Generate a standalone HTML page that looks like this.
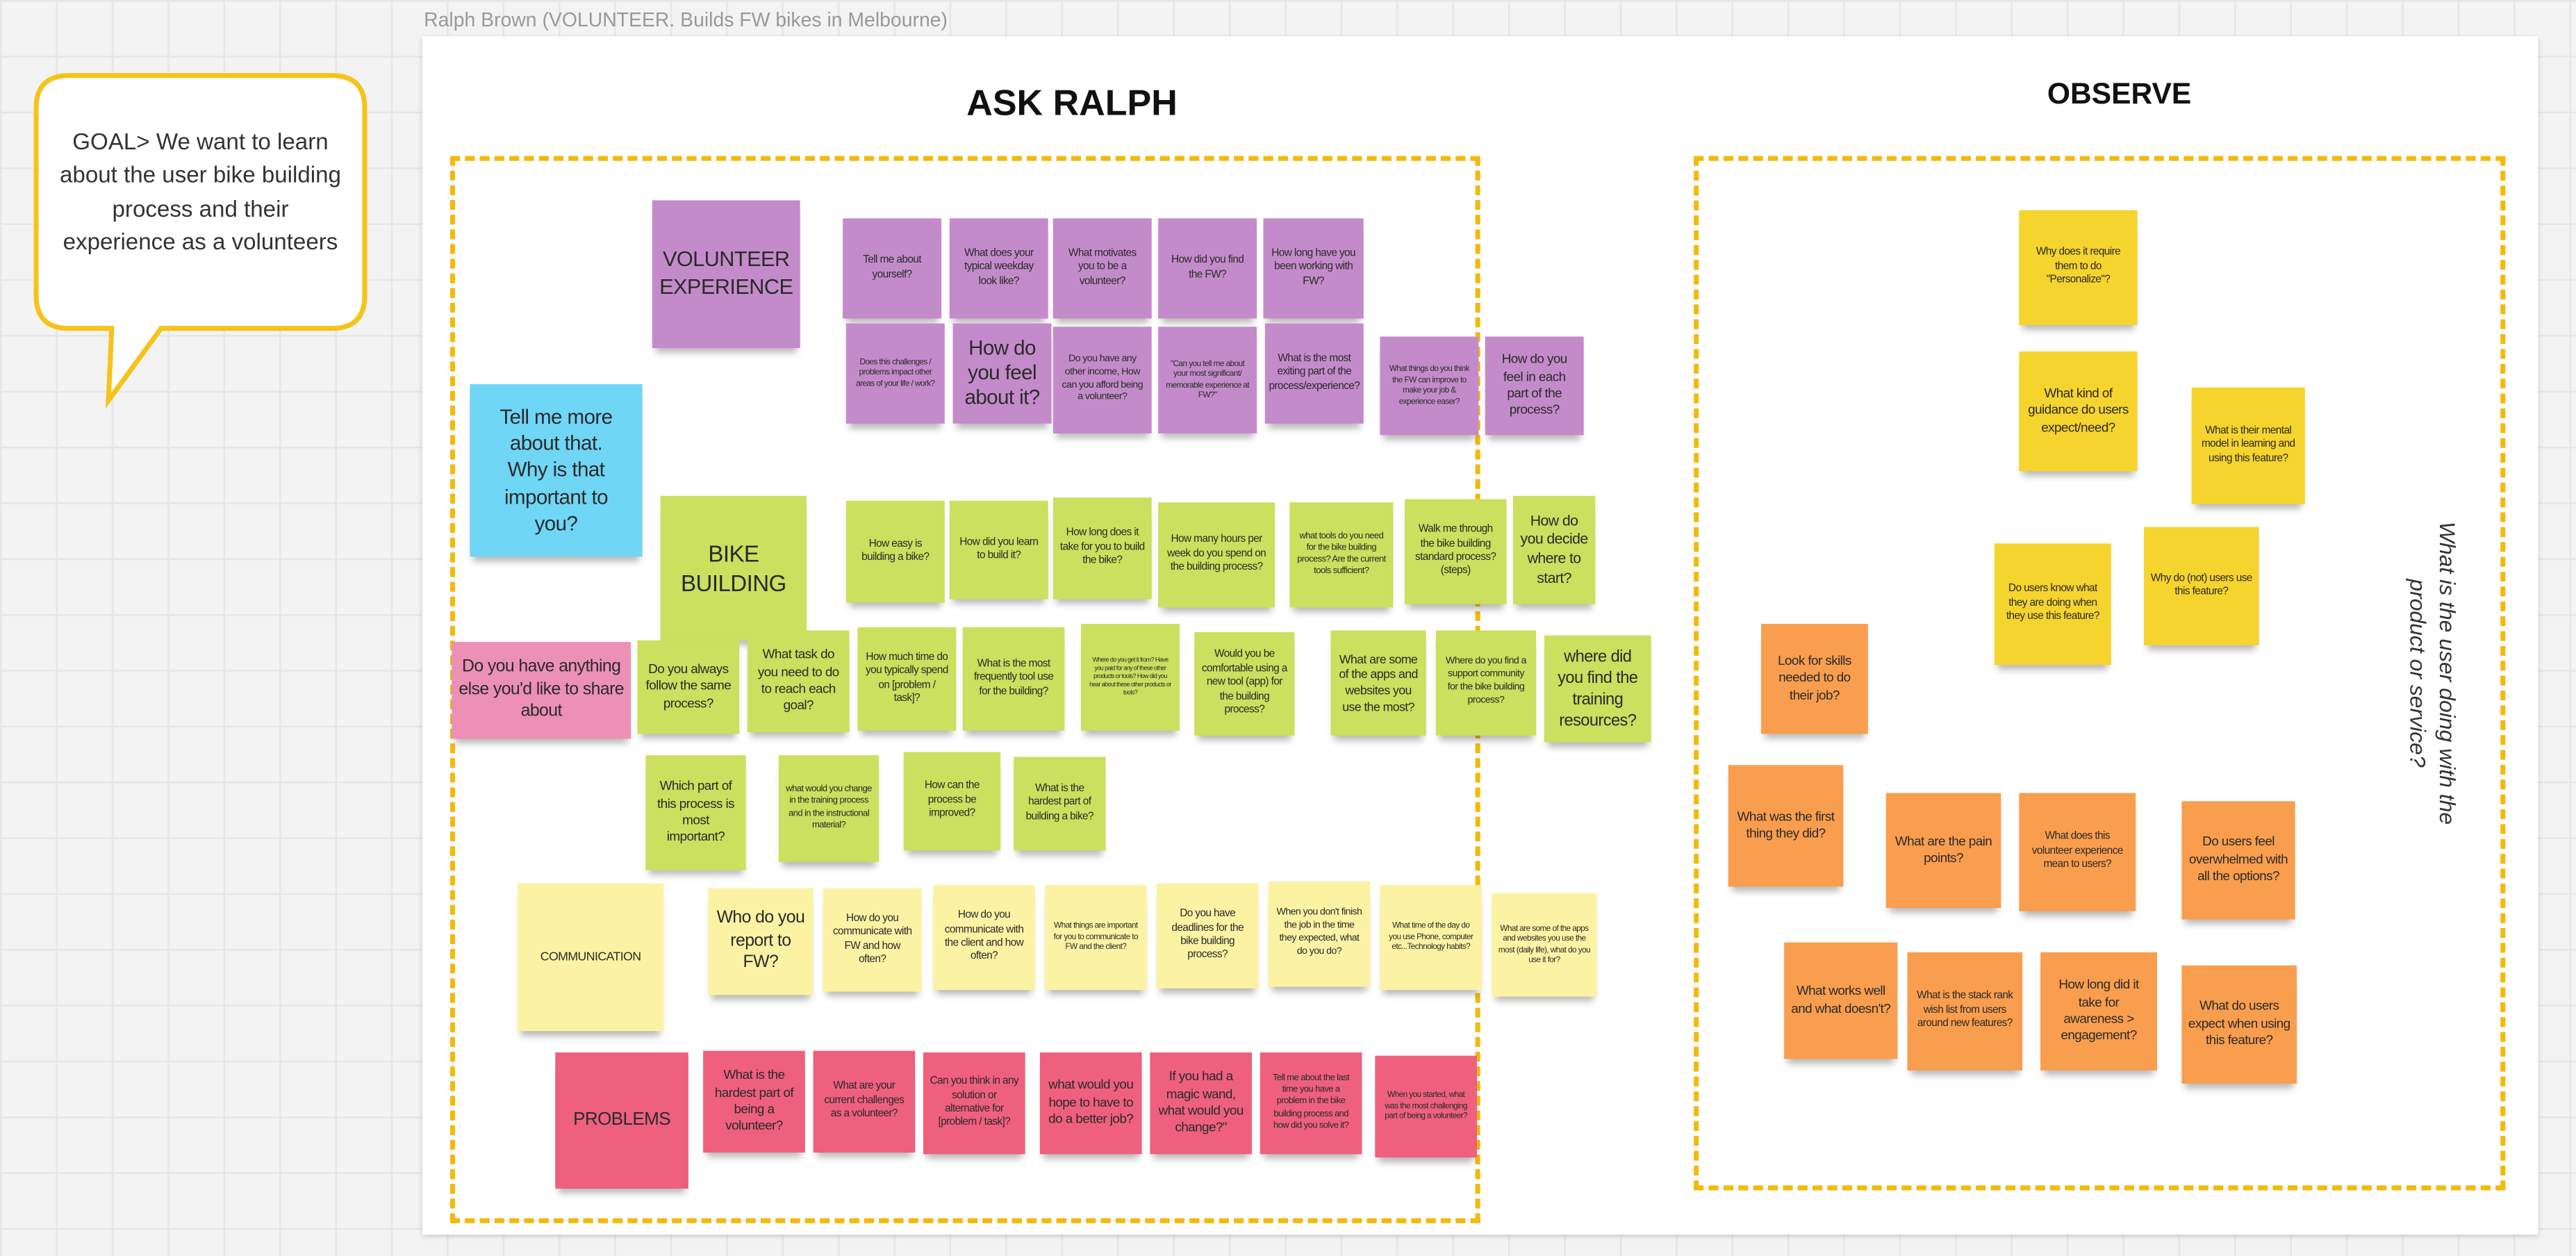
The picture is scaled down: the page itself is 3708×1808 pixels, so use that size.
<!DOCTYPE html>
<html><head><meta charset="utf-8"><style>
html,body{margin:0;padding:0;width:3708px;height:1808px;overflow:hidden;background:#efefef}
#s{position:absolute;left:0;top:0;width:1568px;height:765px;transform-origin:0 0;transform:scale(2.3648,2.3634);
background-color:#f3f3f3;background-image:linear-gradient(#e6e6e6 1px,transparent 1px),linear-gradient(90deg,#e6e6e6 1px,transparent 1px);background-size:34px 34px;font-family:"Liberation Sans Narrow","Liberation Sans",sans-serif;}
.n{position:absolute;display:flex;align-items:center;justify-content:center;text-align:center;color:#2a2a2a;box-sizing:border-box;padding:2px 4px;line-height:1.3;box-shadow:0 5px 4px -2px rgba(0,0,0,.28);font-size:6.5px;letter-spacing:-0.25px}
.p{background:#c48bca}.g{background:#cae05e}.y{background:#fbf3a3}.r{background:#ee607d}.o{background:#f99e4e}.k{background:#f6d42e}
.d{position:absolute;border:3px dashed #f4b90a;box-sizing:border-box}
</style></head><body><div id="s">
<div style="position:absolute;left:258px;top:5px;font-size:12px;color:#999;font-family:'Liberation Sans',sans-serif">Ralph Brown (VOLUNTEER. Builds FW bikes in Melbourne)</div>
<div style="position:absolute;left:257px;top:22px;width:1288px;height:730px;background:#fff;box-shadow:0 1px 3px rgba(0,0,0,.2)"></div>
<svg style="position:absolute;left:0;top:0" width="260" height="260"><path d="M42 46 H202 Q222 46 222 66 V180 Q222 200 202 200 H98 L66 244 L68 200 H42 Q22 200 22 180 V66 Q22 46 42 46Z" fill="#fff" stroke="#f6c31a" stroke-width="3"/></svg>
<div style="position:absolute;left:34px;top:76px;width:176px;text-align:center;font-size:14px;line-height:1.45;color:#333;font-family:'Liberation Sans',sans-serif">GOAL&gt; We want to learn about the user bike building process and their experience as a volunteers</div>
<div style="position:absolute;left:540px;top:50px;width:225px;text-align:center;font-weight:bold;font-size:22px;color:#111;font-family:'Liberation Sans',sans-serif">ASK RALPH</div>
<div style="position:absolute;left:1200px;top:47px;width:180px;text-align:center;font-weight:bold;font-size:18px;color:#111;font-family:'Liberation Sans',sans-serif">OBSERVE</div>
<div class="d" style="left:274px;top:95px;width:627px;height:650px"></div>
<div class="d" style="left:1031px;top:95px;width:494px;height:630px"></div>
<div style="position:absolute;left:1380px;top:410px;width:200px;transform:translate(-50%,-50%) rotate(90deg);transform-origin:center;text-align:center;font-style:italic;font-size:13.5px;line-height:1.35;color:#333;font-family:'Liberation Sans',sans-serif;margin-left:100px">What is the user doing with the product or service?</div>

<div class="n p" style="left:397px;top:122px;width:90px;height:90px;font-size:13px">VOLUNTEER EXPERIENCE</div>
<div class="n p" style="left:513px;top:133px;width:60px;height:61px">Tell me about yourself?</div>
<div class="n p" style="left:578px;top:133px;width:60px;height:61px">What does your typical weekday look like?</div>
<div class="n p" style="left:641px;top:133px;width:60px;height:61px">What motivates you to be a volunteer?</div>
<div class="n p" style="left:705px;top:133px;width:60px;height:61px">How did you find the FW?</div>
<div class="n p" style="left:769px;top:133px;width:61px;height:61px">How long have you been working with FW?</div>
<div class="n p" style="left:515px;top:197px;width:60px;height:61px;font-size:5px">Does this challenges / problems impact other areas of your life / work?</div>
<div class="n p" style="left:580px;top:197px;width:60px;height:61px;font-size:12.5px;line-height:1.2">How do you feel about it?</div>
<div class="n p" style="left:641px;top:199px;width:60px;height:65px;font-size:6px">Do you have any other income, How can you afford being a volunteer?</div>
<div class="n p" style="left:705px;top:199px;width:60px;height:65px;font-size:5px">"Can you tell me about your most significant/ memorable experience at FW?"</div>
<div class="n p" style="left:770px;top:197px;width:60px;height:61px">What is the most exiting part of the process/experience?</div>
<div class="n p" style="left:840px;top:205px;width:60px;height:60px;font-size:5px">What things do you think the FW can improve to make your job &amp; experience easer?</div>
<div class="n p" style="left:904px;top:205px;width:60px;height:60px;font-size:8px">How do you feel in each part of the process?</div>

<div class="n" style="left:286px;top:234px;width:105px;height:105px;background:#70d6f6;font-size:12.5px;line-height:1.3;padding:4px 12px">Tell me more about that. Why is that important to you?</div>
<div class="n" style="left:275px;top:391px;width:109px;height:59px;background:#ec90b5;font-size:10.5px">Do you have anything else you'd like to share about</div>

<div class="n g" style="left:402px;top:302px;width:89px;height:88px;font-size:14px">BIKE BUILDING</div>
<div class="n g" style="left:515px;top:305px;width:60px;height:62px">How easy is building a bike?</div>
<div class="n g" style="left:578px;top:305px;width:60px;height:60px">How did you learn to build it?</div>
<div class="n g" style="left:641px;top:303px;width:60px;height:62px">How long does it take for you to build the bike?</div>
<div class="n g" style="left:705px;top:306px;width:71px;height:64px">How many hours per week do you spend on the building process?</div>
<div class="n g" style="left:785px;top:306px;width:63px;height:64px;font-size:5.5px">what tools do you need for the bike building process? Are the current tools sufficient?</div>
<div class="n g" style="left:855px;top:304px;width:62px;height:64px">Walk me through the bike building standard process? (steps)</div>
<div class="n g" style="left:921px;top:302px;width:50px;height:66px;font-size:9px">How do you decide where to start?</div>
<div class="n g" style="left:388px;top:390px;width:62px;height:57px;font-size:8px">Do you always follow the same process?</div>
<div class="n g" style="left:455px;top:384px;width:62px;height:62px;font-size:8px">What task do you need to do to reach each goal?</div>
<div class="n g" style="left:522px;top:382px;width:60px;height:63px">How much time do you typically spend on [problem / task]?</div>
<div class="n g" style="left:586px;top:382px;width:62px;height:63px">What is the most frequently tool use for the building?</div>
<div class="n g" style="left:658px;top:380px;width:60px;height:65px;font-size:3.8px">Where do you get it from? Have you paid for any of these other products or tools? How did you hear about these other products or tools?</div>
<div class="n g" style="left:727px;top:385px;width:61px;height:63px">Would you be comfortable using a new tool (app) for the building process?</div>
<div class="n g" style="left:810px;top:384px;width:58px;height:64px;font-size:7.5px">What are some of the apps and websites you use the most?</div>
<div class="n g" style="left:874px;top:384px;width:61px;height:64px;font-size:6px">Where do you find a support community for the bike building process?</div>
<div class="n g" style="left:940px;top:387px;width:65px;height:65px;font-size:10px">where did you find the training resources?</div>
<div class="n g" style="left:393px;top:460px;width:61px;height:70px;font-size:8px">Which part of this process is most important?</div>
<div class="n g" style="left:474px;top:460px;width:61px;height:65px;font-size:5.5px">what would you change in the training process and in the instructional material?</div>
<div class="n g" style="left:550px;top:458px;width:59px;height:60px">How can the process be improved?</div>
<div class="n g" style="left:617px;top:461px;width:56px;height:57px">What is the hardest part of building a bike?</div>

<div class="n y" style="left:315px;top:538px;width:89px;height:90px;font-size:7.5px">COMMUNICATION</div>
<div class="n y" style="left:431px;top:541px;width:64px;height:65px;font-size:10.5px">Who do you report to FW?</div>
<div class="n y" style="left:501px;top:541px;width:60px;height:63px">How do you communicate with FW and how often?</div>
<div class="n y" style="left:568px;top:539px;width:62px;height:64px">How do you communicate with the client and how often?</div>
<div class="n y" style="left:636px;top:539px;width:62px;height:64px;font-size:5px">What things are important for you to communicate to FW and the client?</div>
<div class="n y" style="left:704px;top:538px;width:62px;height:64px">Do you have deadlines for the bike building process?</div>
<div class="n y" style="left:772px;top:537px;width:62px;height:64px;font-size:6px">When you don't finish the job in the time they expected, what do you do?</div>
<div class="n y" style="left:840px;top:539px;width:62px;height:64px;font-size:5px">What time of the day do you use Phone, computer etc...Technology habits?</div>
<div class="n y" style="left:908px;top:544px;width:64px;height:63px;font-size:5px">What are some of the apps and websites you use the most (daily life), what do you use it for?</div>

<div class="n r" style="left:338px;top:641px;width:81px;height:83px;font-size:11px">PROBLEMS</div>
<div class="n r" style="left:428px;top:640px;width:62px;height:62px;font-size:8px">What is the hardest part of being a volunteer?</div>
<div class="n r" style="left:495px;top:640px;width:62px;height:62px">What are your current challenges as a volunteer?</div>
<div class="n r" style="left:562px;top:641px;width:62px;height:62px">Can you think in any solution or alternative for [problem / task]?</div>
<div class="n r" style="left:633px;top:641px;width:62px;height:62px;font-size:8px">what would you hope to have to do a better job?</div>
<div class="n r" style="left:700px;top:641px;width:62px;height:62px;font-size:8px">If you had a magic wand, what would you change?"</div>
<div class="n r" style="left:767px;top:641px;width:62px;height:62px;font-size:5.5px">Tell me about the last time you have a problem in the bike building process and how did you solve it?</div>
<div class="n r" style="left:837px;top:643px;width:62px;height:62px;font-size:5px">When you started, what was the most challenging part of being a volunteer?</div>

<div class="n k" style="left:1229px;top:128px;width:72px;height:70px">Why does it require them to do "Personalize"?</div>
<div class="n k" style="left:1229px;top:214px;width:72px;height:73px;font-size:8px">What kind of guidance do users expect/need?</div>
<div class="n k" style="left:1334px;top:236px;width:69px;height:71px">What is their mental model in learning and using this feature?</div>
<div class="n k" style="left:1214px;top:331px;width:71px;height:74px">Do users know what they are doing when they use this feature?</div>
<div class="n k" style="left:1305px;top:321px;width:70px;height:72px">Why do (not) users use this feature?</div>
<div class="n o" style="left:1072px;top:380px;width:65px;height:67px;font-size:8px">Look for skills needed to do their job?</div>
<div class="n o" style="left:1052px;top:466px;width:70px;height:74px;font-size:8px">What was the first thing they did?</div>
<div class="n o" style="left:1148px;top:483px;width:70px;height:70px;font-size:8px">What are the pain points?</div>
<div class="n o" style="left:1229px;top:483px;width:71px;height:72px">What does this volunteer experience mean to users?</div>
<div class="n o" style="left:1328px;top:488px;width:69px;height:72px;font-size:8px">Do users feel overwhelmed with all the options?</div>
<div class="n o" style="left:1086px;top:574px;width:69px;height:71px;font-size:8px">What works well and what doesn't?</div>
<div class="n o" style="left:1161px;top:580px;width:70px;height:72px">What is the stack rank wish list from users around new features?</div>
<div class="n o" style="left:1242px;top:580px;width:71px;height:72px;font-size:8px">How long did it take for awareness &gt; engagement?</div>
<div class="n o" style="left:1328px;top:588px;width:70px;height:72px;font-size:8px">What do users expect when using this feature?</div>
</div></body></html>
